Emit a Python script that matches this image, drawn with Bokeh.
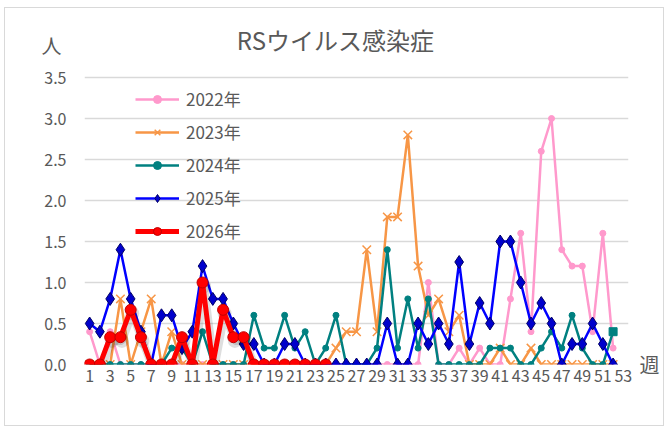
from bokeh.plotting import figure
from bokeh.models import (Range1d, FixedTicker, Label, Legend, LegendItem, ColumnDataSource,
                          CustomJSTickFormatter, LinearAxis)
from bokeh.transform import dodge
from bokeh.embed import file_html
from bokeh.resources import INLINE

# ---- data ----
weeks = list(range(1, 54))
week_ticks = list(range(1, 54, 2))
y_ticks = [0.0, 0.5, 1.0, 1.5, 2.0, 2.5, 3.0, 3.5]

title_text = "RSウイルス感染症"
y_unit = "人"
x_unit = "週"
series_names = ["2022年", "2023年", "2024年", "2025年", "2026年"]

y2022 = [0.4, 0, 0.4, 0, 0, 0, 0, 0, 0, 0, 0, 0, 0, 0, 0, 0, 0, 0, 0, 0,
         0, 0, 0, 0, 0, 0, 0, 0, 0, 0, 0, 0, 0, 1.0, 0, 0, 0.2, 0, 0.2, 0,
         0, 0.8, 1.6, 0.4, 2.6, 3.0, 1.4, 1.2, 1.2, 0.4, 1.6, 0.2]
y2023 = [0, 0, 0, 0.8, 0, 0.4, 0.8, 0, 0.4, 0, 0, 0, 0, 0, 0, 0, 0, 0, 0, 0,
         0, 0, 0, 0, 0.2, 0.4, 0.4, 1.4, 0.4, 1.8, 1.8, 2.8, 1.2, 0.6, 0.8, 0.4, 0.6, 0, 0, 0,
         0.2, 0, 0, 0.2, 0, 0, 0, 0, 0, 0, 0, 0]
y2024 = [0, 0, 0, 0, 0, 0, 0, 0, 0.2, 0.2, 0, 0.4, 0, 0, 0, 0, 0.6, 0.2, 0.2, 0.6,
         0.2, 0.4, 0, 0.2, 0.6, 0, 0, 0, 0.2, 1.4, 0.2, 0.8, 0.2, 0.8, 0, 0, 0, 0, 0, 0.2,
         0.2, 0.2, 0, 0, 0.2, 0.4, 0.2, 0.6, 0.2, 0, 0, 0.4]
y2025 = [0.5, 0.4, 0.8, 1.4, 0.8, 0.4, 0, 0.6, 0.6, 0.2, 0.4, 1.2, 0.8, 0.8, 0.5, 0.25, 0.25, 0, 0, 0.25,
         0.25, 0, 0, 0, 0, 0, 0, 0, 0, 0.5, 0, 0, 0.5, 0.25, 0.5, 0.25, 1.25, 0.25, 0.75, 0.5,
         1.5, 1.5, 1.0, 0.5, 0.75, 0.5, 0, 0.25, 0.25, 0.5, 0.25, 0]
y2026 = [0, 0, 0.333, 0.333, 0.667, 0.333, 0, 0, 0, 0.333, 0, 1.0, 0, 0.667, 0.333, 0.333, 0, 0, 0, 0,
         0, 0, 0, 0]

TEXT = "#595959"
FONT = "Noto Sans CJK JP"

# frame: 287 px for 0..3.5, extra headroom above for the title
y_top = 3.5 * 346 / 287

p = figure(width=660, height=419, output_backend="svg", toolbar_location=None,
           title=None, x_range=Range1d(0.5, 53.5), y_range=Range1d(0, y_top),
           min_border_left=79, min_border_right=37, min_border_top=10, min_border_bottom=63)
p.styles = {"border": "1px solid #d9d9d9", "margin-left": "4px", "margin-top": "7px"}
p.outline_line_color = None
p.background_fill_color = "white"
p.border_fill_color = "white"

p.xgrid.visible = False
p.ygrid.grid_line_color = "#d9d9d9"
p.ygrid.grid_line_width = 1.3
p.ygrid.ticker = FixedTicker(ticks=y_ticks)

p.xaxis.ticker = FixedTicker(ticks=week_ticks)
p.yaxis.ticker = FixedTicker(ticks=y_ticks)
p.yaxis.formatter = CustomJSTickFormatter(code="return tick.toFixed(1);")


def style_axis(ax, size):
    ax.axis_line_color = None
    ax.major_tick_line_color = None
    ax.minor_tick_line_color = None
    ax.major_tick_out = 0
    ax.major_tick_in = 0
    ax.major_label_text_color = TEXT
    ax.major_label_text_font = FONT
    ax.major_label_text_font_size = size


style_axis(p.xaxis[0], "16px")
style_axis(p.yaxis[0], "16px")
p.yaxis.major_label_standoff = 18
p.xaxis.major_label_standoff = 5

# unit label "人" as a second (outer) left axis with a single tick
unit_axis = LinearAxis(ticker=FixedTicker(ticks=[3.89]),
                       formatter=CustomJSTickFormatter(code="return '%s';" % y_unit))
style_axis(unit_axis, "20px")
unit_axis.major_label_standoff = -20
p.add_layout(unit_axis, "left")

# unit label "週" as a right axis with a single tick at the baseline
week_axis = LinearAxis(ticker=FixedTicker(ticks=[0.0]),
                       formatter=CustomJSTickFormatter(code="return '%s';" % x_unit))
style_axis(week_axis, "20px")
week_axis.major_label_standoff = 11
p.add_layout(week_axis, "right")


def src(vals):
    return ColumnDataSource(dict(x=weeks[:len(vals)], y=vals))


items = []

s22 = src(y2022)
l = p.line("x", "y", source=s22, line_color="#ff99cc", line_width=2.5)
m = p.scatter("x", "y", source=s22, marker="circle", size=6, fill_color="#ff99cc", line_color="#ff99cc")
items.append(LegendItem(label=series_names[0], renderers=[l, m]))

s23 = src(y2023)
l = p.line("x", "y", source=s23, line_color="#f79646", line_width=2.5)
m = p.scatter("x", "y", source=s23, marker="x", size=12, line_color="#f79646", line_width=1.5)
items.append(LegendItem(label=series_names[1], renderers=[l, m]))

s24 = src(y2024)
l = p.line("x", "y", source=s24, line_color="#008080", line_width=2.5)
m = p.scatter("x", "y", source=s24, marker="circle", size=6, fill_color="#008080", line_color="#008080")
items.append(LegendItem(label=series_names[2], renderers=[l, m]))
p.scatter(x=[weeks[len(y2024) - 1]], y=[y2024[-1]], marker="square", size=8,
          fill_color="#008080", line_color="#008080")

s25 = src(y2025)
l = p.line("x", "y", source=s25, line_color="#0000ff", line_width=2.5)
m = p.scatter("x", "y", source=s25, marker="diamond", size=13,
              fill_color="#0000cc", line_color="#000066", line_width=1)
items.append(LegendItem(label=series_names[3], renderers=[l, m]))

s26 = src(y2026)
# soft shadow under the 2026 series
p.line(x=dodge("x", 0.15, range=p.x_range), y=dodge("y", -0.045, range=p.y_range), source=s26,
       line_color="black", line_alpha=0.13, line_width=8)
p.scatter(x=dodge("x", 0.15, range=p.x_range), y=dodge("y", -0.045, range=p.y_range), source=s26,
          marker="circle", size=14, fill_color="black", fill_alpha=0.13, line_color=None)
l = p.line("x", "y", source=s26, line_color="#ff0000", line_width=5)
m = p.scatter("x", "y", source=s26, marker="circle", size=11, fill_color="#ff0000",
              line_color="#c00000", line_width=1)
items.append(LegendItem(label=series_names[4], renderers=[l, m]))

legend = Legend(items=items, location=(51, 121), padding=0, margin=0, spacing=8,
                glyph_width=44, glyph_height=20, label_height=20, label_standoff=7,
                border_line_alpha=0, background_fill_alpha=0,
                label_text_font=FONT, label_text_font_size="17px", label_text_color=TEXT)
p.add_layout(legend)

p.add_layout(Label(x=24.95, y=3.967, text=title_text,
                   text_align="center", text_baseline="middle", text_font=FONT,
                   text_font_size="24px", text_color=TEXT))

open("out.html", "w").write(file_html(p, INLINE))
